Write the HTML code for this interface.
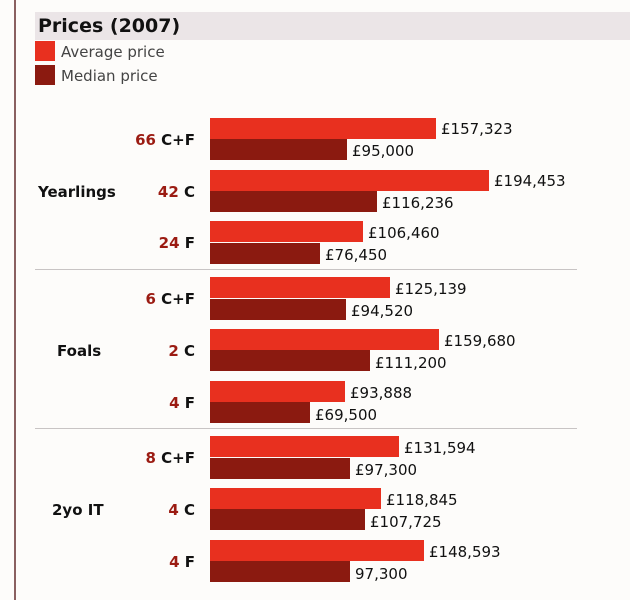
<!DOCTYPE html>
<html><head><meta charset="utf-8"><style>
body{margin:0;width:630px;height:600px;background:#fdfcfa;position:relative;overflow:hidden;font-family:"DejaVu Sans",Verdana,sans-serif;}
.a{position:absolute}
.bar{position:absolute;left:210px;height:21px}
.av{background:#e8301f}
.md{background:#8b1a10}
.v{position:absolute;font-size:15px;color:#111;line-height:21px;margin-top:1px}
.lab{position:absolute;right:435px;font-size:15px;font-weight:bold;color:#111;line-height:20px;white-space:nowrap;margin-top:1px}
.lab b{color:#9b1b12}
.g{position:absolute;font-size:15px;font-weight:bold;color:#111;line-height:20px;margin-top:1px}
.sep{position:absolute;left:35px;width:542px;height:1px;background:#c8c4c4}
</style></head><body>
<div class="a" style="left:14px;top:0;width:2px;height:600px;background:#8a6060"></div>
<div class="a" style="left:35px;top:12px;width:595px;height:28px;background:#ebe5e7"></div>
<div class="a" style="left:38px;top:13px;font-size:19px;font-weight:bold;color:#111;line-height:26px">Prices (2007)</div>
<div class="a" style="left:35px;top:41px;width:20px;height:20px;background:#e8301f"></div>
<div class="a" style="left:35px;top:65px;width:20px;height:20px;background:#8b1a10"></div>
<div class="a" style="left:61px;top:42px;font-size:15px;color:#444;line-height:20px">Average price</div>
<div class="a" style="left:61px;top:66px;font-size:15px;color:#444;line-height:20px">Median price</div>

<div class="g" style="left:38px;top:181px">Yearlings</div>
<div class="g" style="left:57px;top:340px">Foals</div>
<div class="g" style="left:52px;top:499px">2yo IT</div>
<div class="sep" style="top:269px"></div>
<div class="sep" style="top:428px"></div>

<div class="lab" style="top:129px"><b>66</b> C+F</div>
<div class="bar av" style="top:118px;width:226px"></div><div class="v" style="left:441px;top:118px">£157,323</div>
<div class="bar md" style="top:139px;width:137px"></div><div class="v" style="left:352px;top:140px">£95,000</div>

<div class="lab" style="top:181px"><b>42</b> C</div>
<div class="bar av" style="top:170px;width:279px"></div><div class="v" style="left:494px;top:170px">£194,453</div>
<div class="bar md" style="top:191px;width:167px"></div><div class="v" style="left:382px;top:192px">£116,236</div>

<div class="lab" style="top:232px"><b>24</b> F</div>
<div class="bar av" style="top:221px;width:153px"></div><div class="v" style="left:368px;top:222px">£106,460</div>
<div class="bar md" style="top:243px;width:110px"></div><div class="v" style="left:325px;top:244px">£76,450</div>

<div class="lab" style="top:288px"><b>6</b> C+F</div>
<div class="bar av" style="top:277px;width:180px"></div><div class="v" style="left:395px;top:278px">£125,139</div>
<div class="bar md" style="top:299px;width:136px"></div><div class="v" style="left:351px;top:300px">£94,520</div>

<div class="lab" style="top:340px"><b>2</b> C</div>
<div class="bar av" style="top:329px;width:229px"></div><div class="v" style="left:444px;top:330px">£159,680</div>
<div class="bar md" style="top:350px;width:160px"></div><div class="v" style="left:375px;top:352px">£111,200</div>

<div class="lab" style="top:392px"><b>4</b> F</div>
<div class="bar av" style="top:381px;width:135px"></div><div class="v" style="left:350px;top:382px">£93,888</div>
<div class="bar md" style="top:402px;width:100px"></div><div class="v" style="left:315px;top:404px">£69,500</div>

<div class="lab" style="top:447px"><b>8</b> C+F</div>
<div class="bar av" style="top:436px;width:189px"></div><div class="v" style="left:404px;top:437px">£131,594</div>
<div class="bar md" style="top:458px;width:140px"></div><div class="v" style="left:355px;top:459px">£97,300</div>

<div class="lab" style="top:499px"><b>4</b> C</div>
<div class="bar av" style="top:488px;width:171px"></div><div class="v" style="left:386px;top:489px">£118,845</div>
<div class="bar md" style="top:509px;width:155px"></div><div class="v" style="left:370px;top:511px">£107,725</div>

<div class="lab" style="top:551px"><b>4</b> F</div>
<div class="bar av" style="top:540px;width:214px"></div><div class="v" style="left:429px;top:541px">£148,593</div>
<div class="bar md" style="top:561px;width:140px"></div><div class="v" style="left:355px;top:563px">97,300</div>
</body></html>
